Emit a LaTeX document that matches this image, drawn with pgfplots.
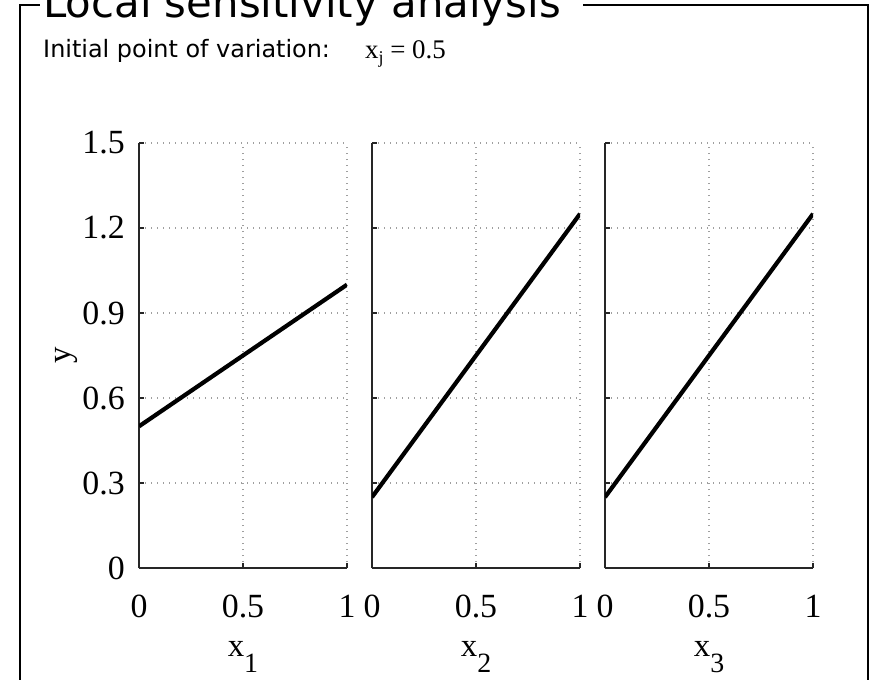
\documentclass[border=0pt]{standalone}
\usepackage{fontspec}
\setmainfont{Liberation Serif}
\newfontfamily\vsans{DejaVu Sans}
\usepackage{pgfplots}
\pgfplotsset{compat=1.18}

\newcommand{\tickfont}{\fontsize{34}{34}\selectfont}
\newcommand{\xsub}[1]{{\fontsize{33}{33}\selectfont x\raisebox{-16bp}{\fontsize{28}{28}\selectfont #1}}}

\pgfplotsset{
  sens/.style={
    scale only axis,
    width=208bp, height=425bp,
    anchor=south west,
    xmin=0, xmax=1, ymin=0, ymax=1.5,
    xtick={0,0.5,1},
    ytick={0,0.3,0.6,0.9,1.2,1.5},
    axis x line*=bottom, axis y line*=left,
    axis line style={-, line width=1.3bp, black!85},
    tick align=inside,
    major tick length=5bp,
    tick style={line width=1.1bp, black!85},
    grid=major,
    major grid style={gray!75, line width=1.2bp, dash pattern=on 1.3bp off 4.7bp},
    /pgf/number format/assume math mode=true,
    ticklabel style={font=\tickfont},
    xticklabel style={inner sep=0pt, yshift=-27bp},
    yticklabel style={inner sep=0pt, xshift=-14bp},
    xlabel style={at={(axis description cs:0.5,0)}, anchor=base, yshift=-88bp, inner sep=0pt},
  },
}

\begin{document}
\begin{tikzpicture}[x=1bp, y=1bp]
\useasboundingbox (0bp,0bp) rectangle (875bp,-680bp);

% panel frame and title
\draw[line width=1.3bp] (20bp,-690bp) -- (20bp,-5bp) -- (40bp,-5bp);
\draw[line width=1.3bp] (583bp,-5bp) -- (868bp,-5bp) -- (868bp,-690bp);
\node[anchor=base west, inner sep=0pt, font=\vsans\fontsize{42}{42}\selectfont] at (43bp,-17bp) {Local sensitivity analysis};
\node[anchor=base west, inner sep=0pt, font=\vsans\fontsize{24}{24}\selectfont] at (43bp,-57bp) {Initial point of variation:};
\node[anchor=base west, inner sep=0pt, font=\fontsize{27}{27}\selectfont] at (365bp,-58bp) {x\raisebox{-5bp}{\fontsize{18}{18}\selectfont j} = 0.5};

\begin{axis}[sens, at={(139bp,-568bp)},
  ylabel={y},
  ylabel style={at={(axis description cs:0,0.5)}, anchor=center, yshift=72bp, inner sep=0pt, font=\fontsize{33}{33}\selectfont},
  xlabel={\xsub{1}}]
\addplot[black, line width=4.2bp] coordinates {(0,0.5) (1,1)};
\end{axis}

\begin{axis}[sens, at={(372bp,-568bp)}, yticklabels={}, xlabel={\xsub{2}}]
\addplot[black, line width=4.2bp] coordinates {(0,0.25) (1,1.25)};
\end{axis}

\begin{axis}[sens, at={(605bp,-568bp)}, yticklabels={}, xlabel={\xsub{3}}]
\addplot[black, line width=4.2bp] coordinates {(0,0.25) (1,1.25)};
\end{axis}
\end{tikzpicture}
\end{document}
